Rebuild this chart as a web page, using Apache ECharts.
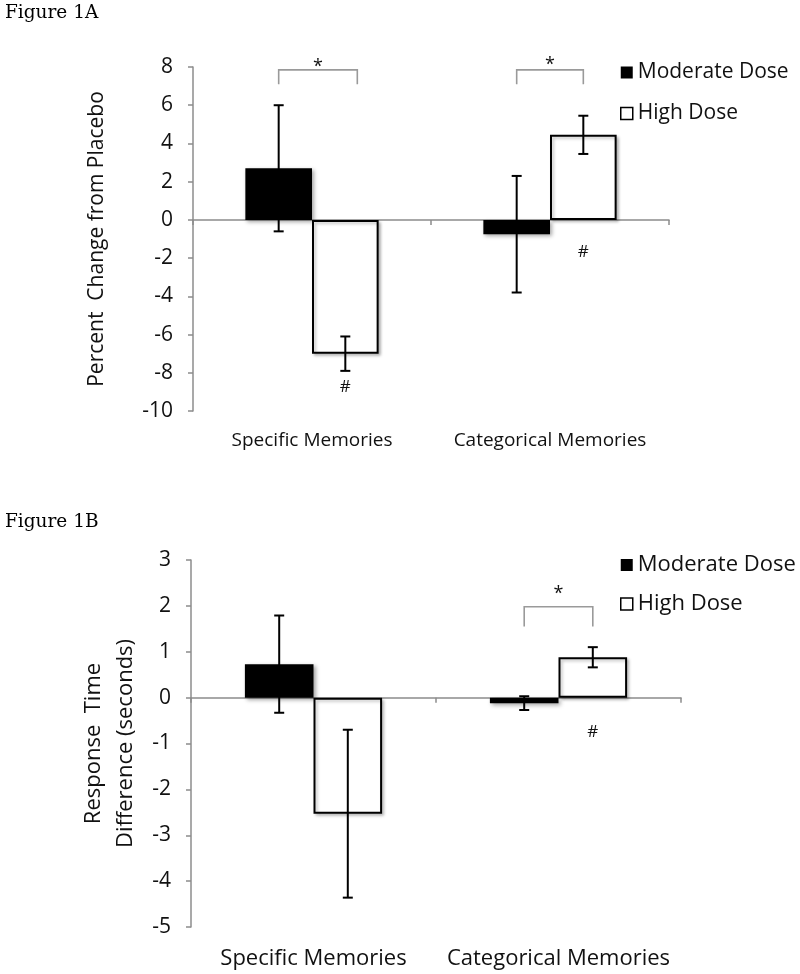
<!DOCTYPE html>
<html><head><meta charset="utf-8">
<script src="https://cdn.jsdelivr.net/npm/echarts@6/dist/echarts.min.js"></script>
<style>html,body{margin:0;padding:0;background:#fff}#c{width:800px;height:974px}</style>
</head><body><div id="c"></div>
<script>
// ---------- data ----------
const categories = ['Specific Memories', 'Categorical Memories'];
const seriesNames = ['Moderate Dose', 'High Dose'];

// Figure 1A : Percent change from placebo
const aModerate = [2.7, -0.75];
const aModerateErr = [3.3, 3.05];
const aHigh = [-7.0, 4.45];
const aHighErr = [0.9, 1.0];
const aYMin = -10, aYMax = 8, aYStep = 2;
// significance brackets: [category, topValue, legValue, starValue, rightEndExtra(bar widths)]
const aBrackets = [[0, 7.85, 7.1, 8.0, 0.18], [1, 7.85, 7.1, 8.1, 0]];
// '#' marks: [category, value]  (placed under the High Dose bar)
const aHashes = [[0, -8.75], [1, -1.7]];

// Figure 1B : Response time difference (seconds)
const bModerate = [0.73, -0.12];
const bModerateErr = [1.06, 0.15];
const bHigh = [-2.53, 0.88];
const bHighErr = [1.83, 0.22];
const bYMin = -5, bYMax = 3, bYStep = 1;
const bBrackets = [[1, 1.98, 1.55, 2.27, 0]];
const bHashes = [[1, -0.75]];

// ---------- styling ----------
const FONT = 'Open Sans';
const BAR_W = 0.28;
const AXIS_GRAY = '#8c8c8c';
const TXT = '#111';

function errData(vals, errs, s) { return vals.map((v, i) => [i, v, errs[i], s]); }

function errRender(params, api) {
  const ci = api.value(0), v = api.value(1), e = api.value(2), s = api.value(3);
  const band = api.size([1, 0])[0];
  const bw = band * BAR_W;
  const cx = api.coord([ci, 0])[0] + (s === 0 ? -bw / 2 : bw / 2);
  const yt = api.coord([ci, v + e])[1], yb = api.coord([ci, v - e])[1];
  const cap = 5;
  const st = { stroke: '#000', lineWidth: 2 };
  return { type: 'group', children: [
    { type: 'line', shape: { x1: cx, y1: yt, x2: cx, y2: yb }, style: st },
    { type: 'line', shape: { x1: cx - cap, y1: yt, x2: cx + cap, y2: yt }, style: st },
    { type: 'line', shape: { x1: cx - cap, y1: yb, x2: cx + cap, y2: yb }, style: st }
  ]};
}

function bracketRender(params, api) {
  const ci = api.value(0), top = api.value(1), leg = api.value(2), star = api.value(3), extra = api.value(4);
  const band = api.size([1, 0])[0];
  const bw = band * BAR_W;
  const c = api.coord([ci, top]);
  const x1 = c[0] - bw / 2, x2 = c[0] + bw / 2 + extra * bw;
  const yT = c[1], yL = api.coord([ci, leg])[1], yS = api.coord([ci, star])[1];
  return { type: 'group', children: [
    { type: 'polyline', shape: { points: [[x1, yL], [x1, yT], [x2, yT], [x2, yL]] },
      style: { stroke: '#9a9a9a', lineWidth: 1.6, fill: null } },
    { type: 'text', x: (x1 + x2) / 2, y: yS, style: { text: '*', fill: TXT, font: '18px ' + FONT, align: 'center', verticalAlign: 'middle' } }
  ]};
}

function hashRender(params, api) {
  const ci = api.value(0), v = api.value(1);
  const band = api.size([1, 0])[0];
  const bw = band * BAR_W;
  const c = api.coord([ci, v]);
  return { type: 'text', x: c[0] + bw / 2, y: c[1], style: { text: '#', fill: TXT, font: '17px ' + FONT, align: 'center', verticalAlign: 'middle' } };
}

function yAxisCfg(grid, min, max, step, name, nameGap, fs, lh) {
  return {
    type: 'value', gridIndex: grid, min: min, max: max, interval: step,
    name: name, nameLocation: 'middle', nameGap: nameGap, nameRotate: 90,
    nameTextStyle: { fontFamily: FONT, fontSize: fs, color: TXT, lineHeight: lh, align: 'center' },
    axisLine: { show: true, lineStyle: { color: AXIS_GRAY, width: 1.5 } },
    axisTick: { show: true, length: 5, lineStyle: { color: AXIS_GRAY, width: 1.5 } },
    axisLabel: { fontFamily: FONT, fontSize: 21, color: TXT, margin: 20 },
    splitLine: { show: false }
  };
}

function xAxisLine(grid) {
  return {
    type: 'category', gridIndex: grid, data: categories,
    axisLine: { onZero: true, lineStyle: { color: AXIS_GRAY, width: 1.5 } },
    axisTick: { show: true, length: 5, lineStyle: { color: AXIS_GRAY, width: 1.5 } },
    axisLabel: { show: false }
  };
}
function xAxisLabels(grid, fs, margin) {
  return {
    type: 'category', gridIndex: grid, data: categories, position: 'bottom',
    axisLine: { show: false, onZero: false }, axisTick: { show: false },
    axisLabel: { fontFamily: FONT, fontSize: fs, color: TXT, margin: margin, interval: 0 }
  };
}

const modStyle = { color: '#000', shadowColor: 'rgba(0,0,0,0.35)', shadowBlur: 4, shadowOffsetX: 2, shadowOffsetY: 2 };
const highStyle = { color: '#fff', borderColor: '#000', borderWidth: 2, shadowColor: 'rgba(0,0,0,0.25)', shadowBlur: 3, shadowOffsetX: 2, shadowOffsetY: 2 };

function barSeries(xi, yi, mod, high) {
  return [
    { type: 'bar', name: seriesNames[0], xAxisIndex: xi, yAxisIndex: yi, data: mod, barWidth: (BAR_W * 100) + '%', barGap: '0%', itemStyle: modStyle, z: 2, silent: true },
    { type: 'bar', name: seriesNames[1], xAxisIndex: xi, yAxisIndex: yi, data: high, barWidth: (BAR_W * 100) + '%', barGap: '0%', itemStyle: highStyle, z: 2, silent: true }
  ];
}

function legendCfg(top, fs, gap) {
  return {
    orient: 'vertical', left: 615, top: top, itemWidth: 12, itemHeight: 12, itemGap: gap,
    selectedMode: false,
    textStyle: { fontFamily: FONT, fontSize: fs, color: TXT },
    data: [
      { name: seriesNames[0], icon: 'rect', itemStyle: { color: '#000', borderWidth: 0 } },
      { name: seriesNames[1], icon: 'rect', itemStyle: { color: '#fff', borderColor: '#000', borderWidth: 1.5 } }
    ]
  };
}

const chart = echarts.init(document.getElementById('c'), null, { renderer: 'canvas' });
chart.setOption({
  animation: false,
  backgroundColor: '#fff',
  title: [
    { text: 'Figure 1A', left: 0, top: -1, textStyle: { fontFamily: 'DejaVu Serif', fontSize: 18.5, fontWeight: 'normal', color: '#000' } },
    { text: 'Figure 1B', left: 0, top: 508, textStyle: { fontFamily: 'DejaVu Serif', fontSize: 18.5, fontWeight: 'normal', color: '#000' } }
  ],
  legend: [legendCfg(57, 21, 20), legendCfg(549, 22, 17)],
  grid: [
    { left: 193, top: 67, width: 476, height: 344 },
    { left: 191, top: 560, width: 490, height: 367 }
  ],
  xAxis: [xAxisLine(0), xAxisLabels(0, 19, 20), xAxisLine(1), xAxisLabels(1, 22, 21)],
  yAxis: [
    yAxisCfg(0, aYMin, aYMax, aYStep, 'Percent  Change from Placebo', 83, 21, 26),
    yAxisCfg(1, bYMin, bYMax, bYStep, 'Response  Time\nDifference (seconds)', 42, 22, 32)
  ],
  series: [
    ...barSeries(0, 0, aModerate, aHigh),
    ...barSeries(2, 1, bModerate, bHigh),
    { type: 'custom', xAxisIndex: 0, yAxisIndex: 0, renderItem: errRender, data: errData(aModerate, aModerateErr, 0).concat(errData(aHigh, aHighErr, 1)), z: 5, silent: true },
    { type: 'custom', xAxisIndex: 2, yAxisIndex: 1, renderItem: errRender, data: errData(bModerate, bModerateErr, 0).concat(errData(bHigh, bHighErr, 1)), z: 5, silent: true },
    { type: 'custom', xAxisIndex: 0, yAxisIndex: 0, renderItem: bracketRender, data: aBrackets, z: 5, silent: true },
    { type: 'custom', xAxisIndex: 2, yAxisIndex: 1, renderItem: bracketRender, data: bBrackets, z: 5, silent: true },
    { type: 'custom', xAxisIndex: 0, yAxisIndex: 0, renderItem: hashRender, data: aHashes, z: 5, silent: true },
    { type: 'custom', xAxisIndex: 2, yAxisIndex: 1, renderItem: hashRender, data: bHashes, z: 5, silent: true }
  ]
});
</script></body></html>
